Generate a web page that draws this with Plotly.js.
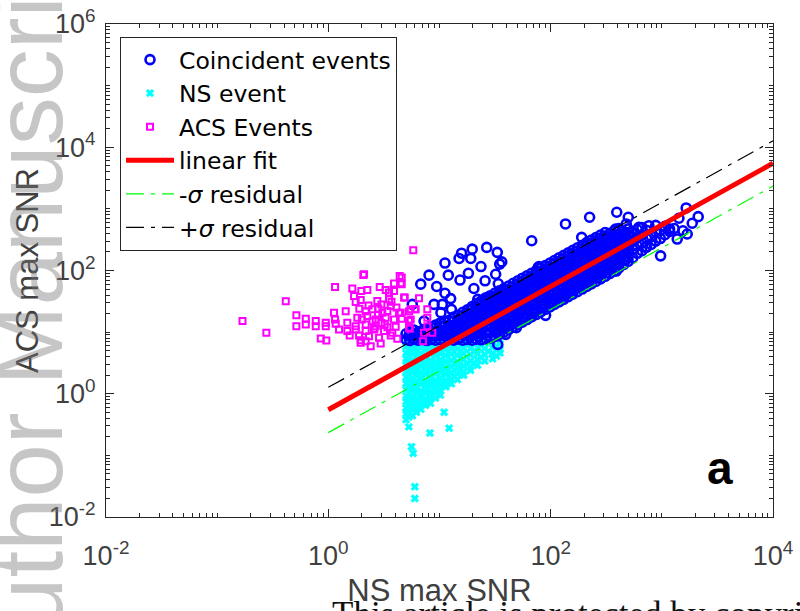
<!DOCTYPE html>
<html>
<head>
<meta charset="utf-8">
<script src="https://cdn.plot.ly/plotly-3.0.1.min.js"></script>
<style>html,body{margin:0;padding:0;background:#fff;}#chart{width:800px;height:611px;}</style>
</head>
<body>
<div id="chart"></div>
<script>
// ---- data (NS max SNR, ACS max SNR) ----
// Coincident events: dense band + outliers
var coincidentEvents = [
[5.0,7.6],[5.0,9.4],[5.4,7.3],[5.4,8.6],[5.4,10.3],[5.9,7.7],[5.9,9.2],[5.9,10.8],[6.4,7.4],[6.4,8.5],[6.4,10],
[7.0,7.6],[7.0,9.0],[7.0,10.6],[7.7,7.3],[7.7,8.4],[7.7,9.8],[7.7,11.3],[8.4,7.6],[8.4,8.9],[8.4,10.5],[8.4,12],
[9.2,7.4],[9.2,8.6],[9.2,10.1],[9.2,11.8],[9.2,13],[10.1,7.6],[10.1,9.0],[10.1,10.7],[10.1,12.6],[10.1,14],
[11.1,7.3],[11.1,8.7],[11.1,10.3],[11.1,12.2],[11.1,14.6],[12.2,7.6],[12.2,9.1],[12.2,10.9],[12.2,13],[12.2,15.5],
[13.4,7.4],[13.4,8.8],[13.4,10.5],[13.4,12.6],[13.4,15],[13.4,17.5],[14.7,7.7],[14.7,9.2],[14.7,11],[14.7,13.3],[14.7,16],[14.7,19],
[16.2,7.4],[16.2,8.9],[16.2,10.7],[16.2,13],[16.2,15.6],[16.2,18.6],[16.2,21],
[17.8,7.6],[17.8,9.3],[17.8,11.3],[17.8,13.8],[17.8,16.8],[17.8,20.4],[17.8,23],
[19.6,7.4],[19.6,9.0],[19.6,11],[19.6,13.5],[19.6,16.5],[19.6,20],[19.6,24],[19.6,26],
[21.5,7.7],[21.5,9.5],[21.5,11.7],[21.5,14.4],[21.5,17.7],[21.5,21.6],[21.5,26],[21.5,29],
[23.7,7.5],[23.7,9.2],[23.7,11.3],[23.7,14],[23.7,17.2],[23.7,21],[23.7,25.5],[23.7,30],[23.7,32],
[26,7.8],[26,9.7],[26,12],[26,14.8],[26,18.2],[26,22.4],[26,27.5],[26,33],[26,36],
[28.6,8.0],[28.6,9.9],[28.6,12.3],[28.6,15.3],[28.6,19],[28.6,23.5],[28.6,29],[28.6,35],[28.6,39],
[31.5,8.5],[31.5,10.6],[31.5,13.2],[31.5,16.4],[31.5,20.3],[31.5,25],[31.5,31],[31.5,38],[31.5,43],
[34.6,9.2],[34.6,11.4],[34.6,14.1],[34.6,17.5],[34.6,21.7],[34.6,27],[34.6,33.5],[34.6,41],[34.6,47],
[38,10],[38,12.4],[38,15.4],[38,19],[38,23.6],[38,29.3],[38,36],[38,44.5],[38,51],
[41.8,11],[41.8,13.6],[41.8,16.9],[41.8,21],[41.8,26],[41.8,32.2],[41.8,40],[41.8,49],[41.8,56],
[46,12],[46,14.9],[46,18.5],[46,23],[46,28.5],[46,35.4],[46,44],[46,54],[46,62],
[50.6,13.2],[50.6,16.4],[50.6,20.4],[50.6,25.3],[50.6,31.4],[50.6,39],[50.6,48.4],[50.6,59.5],[50.6,68],
[55.6,14.5],[55.6,18],[55.6,22.4],[55.6,27.8],[55.6,34.5],[55.6,42.8],[55.6,53],[55.6,65.5],[55.6,75],
[61.2,16],[61.2,19.8],[61.2,24.6],[61.2,30.5],[61.2,37.9],[61.2,47],[61.2,58.4],[61.2,72],[61.2,82],
[67.3,17.6],[67.3,21.8],[67.3,27],[67.3,33.6],[67.3,41.7],[67.3,51.8],[67.3,64],[67.3,79],[67.3,90],
[74,19.3],[74,24],[74,29.7],[74,36.9],[74,45.8],[74,57],[74,70.6],[74,87],[74,99],
[81.4,21.2],[81.4,26.3],[81.4,32.7],[81.4,40.6],[81.4,50.4],[81.4,62.6],[81.4,77.7],[81.4,96],[81.4,109],
[89.5,23.3],[89.5,29],[89.5,36],[89.5,44.7],[89.5,55.4],[89.5,68.8],[89.5,85.4],[89.5,105],[89.5,120],
[98.5,25.6],[98.5,31.8],[98.5,39.6],[98.5,49.1],[98.5,61],[98.5,75.7],[98.5,94],[98.5,116],[98.5,132],
[108,28.2],[108,35],[108,43.5],[108,54],[108,67],[108,83.2],[108,103],[108,128],[108,145],
[119,31],[119,38.5],[119,47.8],[119,59.4],[119,73.7],[119,91.5],[119,114],[119,140],[119,160],
[131,34],[131,42.3],[131,52.6],[131,65.3],[131,81],[131,101],[131,125],[131,154],[131,176],
[144,37.5],[144,46.5],[144,57.8],[144,71.8],[144,89],[144,111],[144,137],[144,170],[144,193],
[158,41.2],[158,51.2],[158,63.6],[158,79],[158,98],[158,122],[158,151],[158,187],[158,212],
[174,45.3],[174,56.3],[174,70],[174,87],[174,108],[174,134],[174,166],[174,205],[174,234],
[192,50],[192,62],[192,77],[192,95.6],[192,119],[192,147],[192,183],[192,226],[192,257],
[211,55],[211,68],[211,84.6],[211,105],[211,130],[211,162],[211,201],[211,248],[211,283],
[232,60.5],[232,75],[232,93],[232,115.6],[232,143.6],[232,178],[232,221],[232,273],[232,311],
[255,66.5],[255,82.6],[255,102.5],[255,127],[255,158],[255,196],[255,243],[255,300],[255,342],
[281,73],[281,91],[281,113],[281,140],[281,174],[281,216],[281,268],[281,330],[281,376],
[309,80.5],[309,100],[309,124],[309,154],[309,191],[309,237],[309,294],[309,363],[309,414],
[340,88.6],[340,110],[340,136.5],[340,169.5],[340,210],[340,261],[340,324],[340,400],
[374,97.5],[374,121],[374,150],[374,186.5],[374,231],[374,287],[374,356],[374,440],
[411,110],[411,133],[411,165],[411,205],[411,254],[411,316],[411,392],[411,480],
[452,125],[452,146],[452,181.5],[452,225],[452,280],[452,347],[452,431],
[497,140],[497,161],[497,200],[497,248],[497,308],[497,382],[497,474],
[547,160],[547,220],[547,300],[547,420],[602,190],[602,250],[602,340],[602,462],
[662,210],[662,280],[662,380],[662,500],[728,240],[728,330],[728,450],[801,265],[801,360],
[881,300],[881,420],[881,540],[969,330],[969,450],[1066,380],[1066,520],[1173,430],[1290,480],
// in-between points of the dense core
[12.8,8.2],[12.8,11.7],[15.4,8.1],[15.4,11.8],[15.4,14.3],[18.7,8.3],[18.7,12.2],[18.7,15],[18.7,18.3],
[22.6,8.4],[22.6,12.8],[22.6,15.8],[22.6,19.5],[22.6,24],[27.3,8.9],[27.3,13.5],[27.3,16.8],[27.3,20.8],[27.3,25.6],[27.3,31],
[33,10],[33,15.3],[33,19],[33,23.5],[33,29],[33,36],[39.9,11.6],[39.9,17.9],[39.9,22.2],[39.9,27.5],[39.9,34],[39.9,42],
[48.3,14.1],[48.3,21.6],[48.3,26.8],[48.3,33.2],[48.3,41],[48.3,51],[58.4,17],[58.4,26],[58.4,32.3],[58.4,40],[58.4,50],[58.4,62],
[70.6,20.5],[70.6,31.5],[70.6,39],[70.6,48.5],[70.6,60],[70.6,75],[85.4,25],[85.4,38],[85.4,47],[85.4,58.6],[85.4,73],[85.4,90],
[103,30],[103,46],[103,57],[103,71],[103,88],[103,109],[125,36],[125,55.6],[125,69],[125,86],[125,106],[125,132],
[151,44],[151,67],[151,83.5],[151,104],[151,128],[151,160],[183,53],[183,81],[183,101],[183,125],[183,155],[183,193],
[221,64],[221,98],[221,122],[221,151],[221,188],[221,233],[268,77],[268,119],[268,148],[268,183],[268,228],[268,283],
[324,93],[324,143],[324,178],[324,221],[324,275],[324,342],[392,112],[392,173],[392,215],[392,268],[392,333],
[474,150],[474,210],[474,262],[474,325],[474,404],
// scattered outliers
[224,731],[136,569],[67.5,304],[190,345],[26.6,237],[19.7,222],[15.8,191],[15.0,157],[19.1,157],[33.1,197],
[36.3,138],[34.8,127],[11.2,132],[23.6,116],[18.2,90],[12.0,84],[8.05,84],[32.0,87],[15.3,70],[25.7,68],
[33.8,61],[6.78,60],[9.44,55],[20.4,51],[77.3,112],[11.2,42.7],[12.6,35],[22.1,34],[28.3,36.3],[8.93,28.2],
[10.6,28.2],[12.8,23.4],[10.3,20.7],[5.69,28.2],[7.26,15.1],[5.32,8.8],[90,18.7],[49.1,11.8],[39.4,9.2],[33.4,6.3],
[393,881],[1656,1036],[2125,748],[1425,704],[1877,584],[499,731],[479,569],[622,502],[765,533],[1549,442],
[1692,391],[1175,471],[1375,324],[975,173],[715,237],[384,471],[389,98],[78.5,116]
];

// NS events (cyan crosses)
var nsEvents = [
[5.0,7.2],[5.0,5.8],[5.0,4.6],[5.0,3.7],[5.0,2.9],[5.0,2.3],[5.0,1.85],[5.0,1.47],[5.0,1.17],[5.0,0.93],[5.0,0.74],[5.0,0.59],[5.0,0.47],[5.0,0.38],
[5.3,6.5],[5.3,5.2],[5.3,4.1],[5.3,3.3],[5.3,2.6],[5.3,2.1],[5.3,1.65],[5.3,1.3],[5.3,1.04],[5.3,0.83],[5.3,0.66],[5.3,0.52],[5.3,0.42],
[5.7,7.0],[5.7,5.5],[5.7,4.4],[5.7,3.5],[5.7,2.8],[5.7,2.2],[5.7,1.75],[5.7,1.4],[5.7,1.1],[5.7,0.88],[5.7,0.7],[5.7,0.55],[5.7,0.44],
[6.2,6.4],[6.2,5.1],[6.2,4.0],[6.2,3.2],[6.2,2.5],[6.2,2.0],[6.2,1.6],[6.2,1.27],[6.2,1.0],[6.2,0.8],[6.2,0.63],[6.2,0.5],
[6.8,7.1],[6.8,5.6],[6.8,4.5],[6.8,3.6],[6.8,2.8],[6.8,2.25],[6.8,1.8],[6.8,1.42],[6.8,1.12],[6.8,0.9],[6.8,0.71],[6.8,0.56],
[7.5,6.5],[7.5,5.2],[7.5,4.1],[7.5,3.3],[7.5,2.6],[7.5,2.05],[7.5,1.63],[7.5,1.3],[7.5,1.03],[7.5,0.82],[7.5,0.65],
[8.3,7.0],[8.3,5.6],[8.3,4.4],[8.3,3.5],[8.3,2.8],[8.3,2.2],[8.3,1.75],[8.3,1.4],[8.3,1.1],[8.3,0.88],[8.3,0.7],
[9.2,6.6],[9.2,5.2],[9.2,4.1],[9.2,3.3],[9.2,2.6],[9.2,2.1],[9.2,1.65],[9.2,1.3],[9.2,1.05],[9.2,0.85],
[10.2,7.1],[10.2,5.6],[10.2,4.5],[10.2,3.6],[10.2,2.85],[10.2,2.25],[10.2,1.8],[10.2,1.42],[10.2,1.13],[10.2,0.95],
[11.4,6.5],[11.4,5.2],[11.4,4.1],[11.4,3.3],[11.4,2.6],[11.4,2.05],[11.4,1.65],[11.4,1.3],
[12.8,7.0],[12.8,5.6],[12.8,4.4],[12.8,3.5],[12.8,2.8],[12.8,2.2],[12.8,1.75],[12.8,1.45],
[14.5,6.6],[14.5,5.3],[14.5,4.2],[14.5,3.3],[14.5,2.65],[14.5,2.1],[14.5,1.7],
[16.5,7.1],[16.5,5.6],[16.5,4.5],[16.5,3.6],[16.5,2.85],[16.5,2.25],[16.5,2.0],
[19,6.8],[19,5.4],[19,4.3],[19,3.4],[19,2.7],[19,2.4],
[22,7.1],[22,5.7],[22,4.5],[22,3.6],[22,2.9],
[25.5,6.8],[25.5,5.4],[25.5,4.3],[25.5,3.4],
[30,7.0],[30,5.6],[30,4.5],[30,3.7],
[35,6.5],[35,5.2],[35,4.6],
[5.15,6.4],[5.15,3.3],[5.15,1.65],[5.15,0.83],[5.15,0.52],[5.5,4.9],[5.5,2.5],[5.5,1.25],[5.5,0.62],
[5.95,6.0],[5.95,3.0],[5.95,1.5],[5.95,0.78],[6.5,4.2],[6.5,2.1],[6.5,1.06],[6.5,0.6],[7.1,6.1],[7.1,3.1],[7.1,1.55],[7.1,0.78],
[7.9,4.8],[7.9,2.4],[7.9,1.2],[7.9,0.75],[8.7,6.3],[8.7,3.2],[8.7,1.6],[8.7,0.95],[9.7,4.7],[9.7,2.35],[9.7,1.2],
[10.8,6.0],[10.8,3.0],[10.8,1.5],[12.1,4.8],[12.1,2.45],[12.1,1.55],[13.6,6.1],[13.6,3.1],[13.6,1.9],[15.5,4.9],[15.5,2.5],
[17.7,6.2],[17.7,3.1],[20.5,4.9],[20.5,3.1],[23.7,6.2],[23.7,3.9],[27.6,4.9],[32.5,5.9],[32.5,4.1],
[5.3,0.29],[8.2,0.23],[11,0.5],[12.2,0.276],[5.6,0.138],[5.8,0.108],[6.0,0.031],[6.0,0.020]
];

// ACS events (magenta squares)
var acsEvents = [
[5.81,214],[2.064,84.8],[4.385,81.7],[1.149,54.1],[1.643,50.9],[2.243,48.3],[1.98,46.5],[2.899,54.1],[3.899,61.4],[4.48,62.1],
[3.281,48.3],[3.515,43.8],[3.899,46.5],[0.414,31.6],[1.703,38.5],[1.955,33.2],[1.763,30.8],[2.759,31.9],[3.515,34.0],[4.867,36.3],
[5.51,23.4],[6.11,23.4],[3.64,26.5],[2.815,24.0],[2.487,23.4],[2.168,21.9],[1.433,21.9],[1.125,20.7],[3.06,20.7],[4.323,20.7],
[0.516,18.7],[0.627,16.5],[0.771,15.1],[0.948,14.2],[1.149,16.1],[1.823,17.1],[2.243,18.2],[2.668,16.1],[3.281,17.1],[3.899,16.1],
[4.573,16.5],[5.51,16.1],[0.169,15.1],[0.516,12.5],[0.627,13.3],[0.771,12.5],[0.948,12.5],[1.166,13.7],[1.482,14.2],[1.763,12.5],
[2.168,13.3],[2.668,12.5],[3.214,13.3],[4.037,12.2],[5.40,11.3],[1.248,11.0],[1.482,10.4],[1.763,11.0],[2.168,10.4],[2.576,11.0],
[3.169,10.4],[3.765,9.76],[0.277,9.76],[1.556,8.82],[1.888,8.82],[2.323,8.59],[2.858,8.09],[3.64,8.82],[4.176,7.79],[0.855,7.88],
[0.96,7.31],[1.955,7.40],[2.405,5.90],[2.958,6.53],[1.955,6.70],[2.168,7.12],[2.094,87],[4.573,76.9],[4.573,59.8],[4.80,36.3],
[6.54,35.3],[5.32,21.9],[6.02,23.4],[7.77,23.4],[5.32,15.1],[7.77,17.1],[7.77,12.5],[5.32,11.8],[7.26,9.76],[8.61,9.76],
[7.11,7.12],[4.477,20.7],[2.5,15],[3.0,14],[2.8,19],[3.4,22],[2.3,27],[3.0,28],[2.6,11.5],[3.4,12],[2.0,16],[1.9,24],[4.1,25],[3.7,31]
];

// Fit lines
var fitX = [1, 10000];
var fitY = [0.55, 5500];
var minusSigmaY = [0.234, 2340];
var plusSigmaY = [1.27, 12700];

// Axis ticks
var majorTickVals = [0.01, 1, 100, 10000];
var xTickText = ['10<sup>-2</sup>', '10<sup>0</sup>', '10<sup>2</sup>', '10<sup>4</sup>'];
var yMajorTickVals = [0.01, 1, 100, 10000, 1000000];
var yTickText = ['10<sup>-2</sup>', '10<sup>0</sup>', '10<sup>2</sup>', '10<sup>4</sup>', '10<sup>6</sup>'];

function minorTicks(lo, hi, majors) {
  var out = [];
  for (var e = lo; e < hi; e++) {
    for (var d = 1; d <= 9; d++) {
      var v = d * Math.pow(10, e);
      if (d === 1 && majors.indexOf(e) >= 0) continue;
      out.push(v);
    }
  }
  return out;
}

var col = function (arr, i) { return arr.map(function (p) { return p[i]; }); };

var traces = [
  {x: col(nsEvents,0), y: col(nsEvents,1), type:'scatter', mode:'markers', name:'NS event', legendrank:2,
   marker:{symbol:'x', size:7, color:'#00FFFF', line:{color:'#00FFFF', width:0.5}}},
  {x: col(coincidentEvents,0), y: col(coincidentEvents,1), type:'scatter', mode:'markers', name:'Coincident events', legendrank:1,
   marker:{symbol:'circle-open', size:9, color:'#0000FF', line:{color:'#0000FF', width:2.6}}},
  {x: col(acsEvents,0), y: col(acsEvents,1), type:'scatter', mode:'markers', name:'ACS Events', legendrank:3,
   marker:{symbol:'square-open', size:6, color:'#FF00FF', line:{color:'#FF00FF', width:2}}},
  {x: fitX, y: fitY, type:'scatter', mode:'lines', name:'linear fit', legendrank:4,
   line:{color:'#FF0000', width:5}},
  {x: fitX, y: minusSigmaY, type:'scatter', mode:'lines', name:'-<i>σ</i> residual', legendrank:5,
   line:{color:'#00FF00', width:1.2, dash:'18px,7px,4px,7px'}},
  {x: fitX, y: plusSigmaY, type:'scatter', mode:'lines', name:'+<i>σ</i> residual', legendrank:6,
   line:{color:'#000000', width:1.2, dash:'18px,7px,4px,7px'}}
];

var axCol = '#262626';
var tickFont = {family:'Liberation Sans, Arial, sans-serif', size:27, color:'#404040'};
var layout = {
  width:800, height:611,
  margin:{l:106, r:27, t:24, b:94},
  paper_bgcolor:'#ffffff', plot_bgcolor:'#ffffff',
  showlegend:true,
  legend:{x:0.021, y:0.974, xanchor:'left', yanchor:'top', bgcolor:'#ffffff', bordercolor:axCol, borderwidth:1,
          font:{family:'DejaVu Sans, Liberation Sans, sans-serif', size:23.5, color:'#000000'}, itemwidth:48, traceorder:'normal', tracegroupgap:0},
  xaxis:{type:'log', range:[-2,4], tickmode:'array', tickvals:majorTickVals, ticktext:xTickText,
         ticks:'inside', ticklen:8, tickwidth:1, tickcolor:axCol, showline:true, linecolor:axCol, linewidth:1, mirror:'ticks',
         showgrid:false, zeroline:false, tickfont:tickFont, ticklabelstandoff:15,
         minor:{tickmode:'array', tickvals:minorTicks(-2,4,[-2,0,2]), ticks:'inside', ticklen:4, tickcolor:axCol, showgrid:false},
         title:{text:'NS max SNR', font:{family:'Liberation Sans, Arial, sans-serif', size:31, color:'#404040'}, standoff:8}},
  yaxis:{type:'log', range:[-2,6], tickmode:'array', tickvals:yMajorTickVals, ticktext:yTickText,
         ticks:'inside', ticklen:8, tickwidth:1, tickcolor:axCol, showline:true, linecolor:axCol, linewidth:1, mirror:'ticks',
         showgrid:false, zeroline:false, tickfont:tickFont, ticklabelstandoff:4,
         minor:{tickmode:'array', tickvals:minorTicks(-2,6,[-2,0,2,4]), ticks:'inside', ticklen:4, tickcolor:axCol, showgrid:false},
         title:{text:'ACS max SNR', font:{family:'Liberation Sans, Arial, sans-serif', size:31, color:'#404040'}, standoff:0}},
  annotations:[
    {text:'a', xref:'paper', yref:'paper', x:0.9205, y:0.0994, xanchor:'center', yanchor:'middle', showarrow:false,
     font:{family:'Liberation Sans, Arial, sans-serif', size:46, color:'#000000', weight:'bold'}},
    {text:'Author Manuscript', xref:'paper', yref:'paper', x:-0.1154, y:0.428, xanchor:'center', yanchor:'middle', textangle:-90,
     showarrow:false, font:{family:'Liberation Sans, Arial, sans-serif', size:96, color:'rgba(120,120,120,0.42)'}},
    {text:'This article is protected by copyright. All rights reserved', xref:'paper', yref:'paper', x:0.336, y:-0.1968,
     xanchor:'left', yanchor:'middle', showarrow:false,
     font:{family:'Liberation Serif, Times New Roman, serif', size:35, color:'#111111'}}
  ]
};

Plotly.newPlot('chart', traces, layout, {staticPlot:true, displayModeBar:false});
</script>
</body>
</html>
